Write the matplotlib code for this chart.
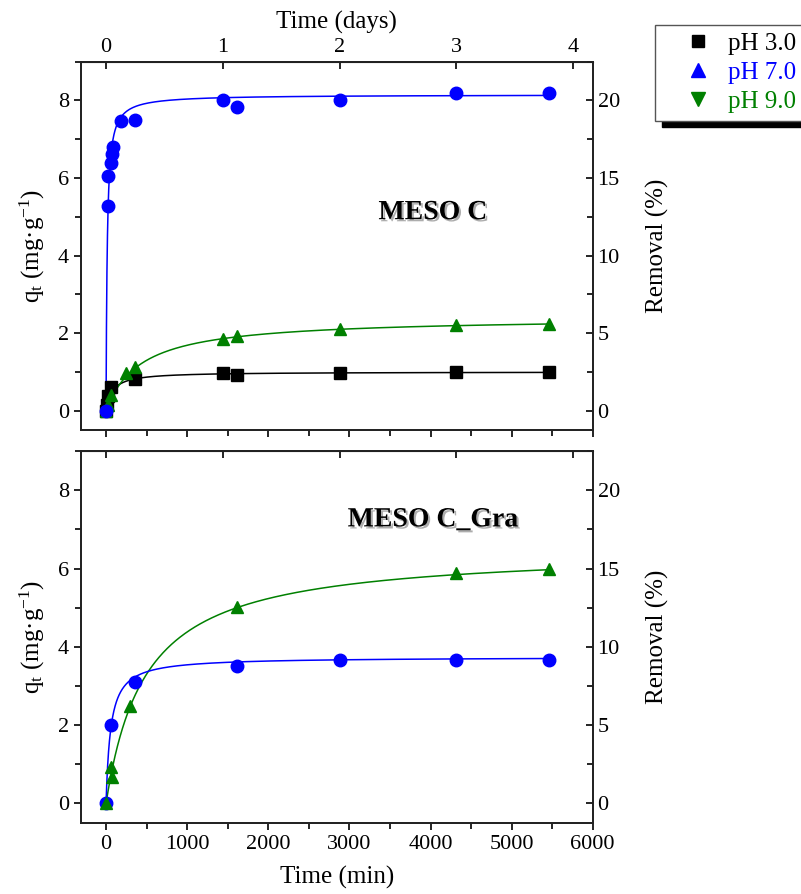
import matplotlib
matplotlib.use('Agg')
import matplotlib.pyplot as plt
import matplotlib.patheffects as pe
from matplotlib.lines import Line2D
from matplotlib.ticker import MultipleLocator
import numpy as np

plt.rcParams['font.family'] = ['Liberation Serif', 'DejaVu Serif']
plt.rcParams['mathtext.fontset'] = 'custom'
plt.rcParams['mathtext.rm'] = 'Liberation Serif'
plt.rcParams['mathtext.it'] = 'Liberation Serif:italic'

# ---- data (time in min, q in mg/g) ----
# MESO C
t_c_ph3 = [0, 15, 30, 60, 360, 1440, 1620, 2880, 4320, 5460]
q_c_ph3 = [0, 0.15, 0.39, 0.61, 0.82, 0.97, 0.93, 0.98, 0.99, 1.0]
t_c_ph7 = [0, 25, 30, 65, 75, 90, 180, 360, 1440, 1620, 2880, 4320, 5460]
q_c_ph7 = [0, 5.27, 6.04, 6.39, 6.63, 6.79, 7.46, 7.50, 8.01, 7.83, 8.01, 8.20, 8.20]
t_c_ph9 = [0, 30, 60, 240, 360, 1440, 1620, 2880, 4320, 5460]
q_c_ph9 = [0, 0.15, 0.40, 0.97, 1.13, 1.85, 1.93, 2.10, 2.20, 2.23]

# MESO C_Gra
t_g_ph7 = [0, 60, 360, 1620, 2880, 4320, 5460]
q_g_ph7 = [0, 2.0, 3.09, 3.52, 3.67, 3.67, 3.67]
t_g_ph9 = [0, 55, 70, 300, 1620, 4320, 5460]
q_g_ph9 = [0, 0.94, 0.68, 2.48, 5.01, 5.89, 5.99]

# pseudo-second-order fit parameters (qe, k)
fit_c_ph3 = (1.0, 0.0127)
fit_c_ph7 = (8.15, 0.0087)
fit_c_ph9 = (2.41, 0.000967)
fit_g_ph7 = (3.74, 0.00476)
fit_g_ph9 = (6.50, 0.000318)

removal_factor = 2.5  # % removal per mg/g

blue = '#0000ff'
green = '#008000'
black = '#000000'


def pso(t, qe, k):
    return k * qe**2 * t / (1 + k * qe * t)


tt = np.concatenate([np.linspace(0, 300, 600), np.linspace(300, 5460, 500)])

fig = plt.figure(figsize=(8.01, 8.94), dpi=100)
ax1 = fig.add_axes([0.101, 0.519, 0.639, 0.412])
ax2 = fig.add_axes([0.101, 0.0794, 0.639, 0.416])

lw = 1.1
ax1.plot(tt, pso(tt, *fit_c_ph3), color=black, lw=lw)
ax1.plot(tt, pso(tt, *fit_c_ph9), color=green, lw=lw)
ax1.plot(tt, pso(tt, *fit_c_ph7), color=blue, lw=lw)
ax1.plot(t_c_ph3, q_c_ph3, 's', color=black, ms=8)
ax1.plot(t_c_ph9, q_c_ph9, '^', color=green, ms=9)
ax1.plot(t_c_ph7, q_c_ph7, 'o', color=blue, ms=9)

ax2.plot(tt, pso(tt, *fit_g_ph9), color=green, lw=lw)
ax2.plot(tt, pso(tt, *fit_g_ph7), color=blue, lw=lw)
ax2.plot(t_g_ph7, q_g_ph7, 'o', color=blue, ms=9)
ax2.plot(t_g_ph9, q_g_ph9, '^', color=green, ms=9)

ymin, ymax = -0.5, 9.0
for ax in (ax1, ax2):
    ax.set_xlim(-310, 6000)
    ax.set_ylim(ymin, ymax)
    ax.xaxis.set_major_locator(MultipleLocator(1000))
    ax.xaxis.set_minor_locator(MultipleLocator(500))
    ax.yaxis.set_major_locator(MultipleLocator(2))
    ax.yaxis.set_minor_locator(MultipleLocator(1))
    ax.tick_params(axis='both', which='major', direction='out', length=5, width=1.2,
                   labelsize=16, top=False, right=False)
    ax.tick_params(axis='both', which='minor', direction='out', length=4, width=1.2,
                   top=False, right=False)
    for s in ax.spines.values():
        s.set_linewidth(1.3)
        s.set_color('#222222')
    ax.set_ylabel(r'q$_\mathrm{t}$ (mg·g$^{-1}$)', fontsize=18, labelpad=8)

    axr = ax.twinx()
    axr.set_ylim(ymin * removal_factor, ymax * removal_factor)
    axr.yaxis.set_major_locator(MultipleLocator(5))
    axr.yaxis.set_minor_locator(MultipleLocator(2.5))
    axr.tick_params(axis='y', which='major', direction='in', length=5, width=1.2, labelsize=16)
    axr.tick_params(axis='y', which='minor', direction='in', length=4, width=1.2)
    for s in axr.spines.values():
        s.set_linewidth(1.3)
        s.set_color('#222222')
    axr.set_ylabel('Removal (%)', fontsize=18, labelpad=19)

    sec = ax.secondary_xaxis('top', functions=(lambda m: m / 1440.0, lambda d: d * 1440.0))
    sec.set_xticks([0, 1, 2, 3, 4])
    sec.tick_params(direction='in', length=5, width=1.2, labelsize=16)
    if ax is ax1:
        sec.set_xlabel('Time (days)', fontsize=18, labelpad=7)
    else:
        sec.tick_params(labeltop=False)

ax1.tick_params(axis='x', labelbottom=False)
ax2.set_xlabel('Time (min)', fontsize=18, labelpad=9)

shadow = [pe.withSimplePatchShadow(offset=(1.5, -1.5), shadow_rgbFace='#777777', alpha=0.6)]
ax1.text(0.6875, 0.59, 'MESO C', transform=ax1.transAxes, fontsize=20, fontweight='bold',
         ha='center', va='center', path_effects=shadow)
ax2.text(0.6875, 0.815, 'MESO C_Gra', transform=ax2.transAxes, fontsize=20, fontweight='bold',
         ha='center', va='center', path_effects=shadow)

handles = [Line2D([], [], ls='none', marker='s', color=black, ms=8),
           Line2D([], [], ls='none', marker='^', color=blue, ms=10),
           Line2D([], [], ls='none', marker='v', color=green, ms=10)]
leg = fig.legend(handles, ['pH 3.0', 'pH 7.0', 'pH 9.0'], loc='upper left',
                 bbox_to_anchor=(655 / 801, 1 - 25 / 894), fontsize=18,
                 frameon=True, fancybox=False, edgecolor='#555555', framealpha=1,
                 shadow={'ox': 5, 'oy': -5, 'color': 'black', 'alpha': 1},
                 borderaxespad=0, borderpad=0.3, labelspacing=0.26,
                 handlelength=2.8, handletextpad=-0.18)
leg.get_frame().set_linewidth(1.0)
for txt, c in zip(leg.get_texts(), [black, blue, green]):
    txt.set_color(c)

fig.savefig('out.png', dpi=100)
